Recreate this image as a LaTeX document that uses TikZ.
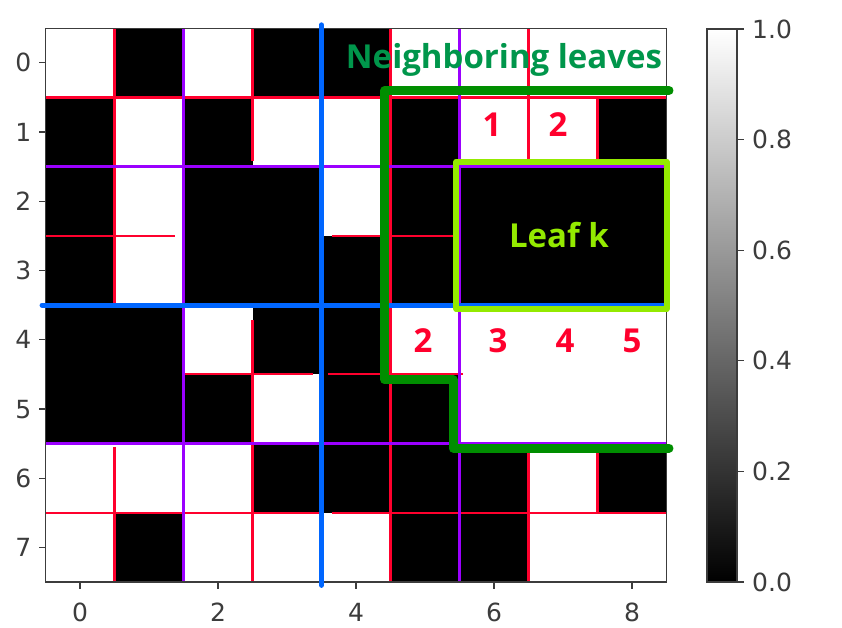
\documentclass[tikz,border=0pt]{standalone}
\usepackage{fontspec}
\newfontfamily\labfont{Open Sans}
\newfontfamily\tickfont{DejaVu Sans}
\definecolor{qred}{RGB}{255,0,45}
\definecolor{qpurple}{RGB}{155,0,255}
\definecolor{qblue}{RGB}{0,102,255}
\definecolor{qdgreen}{RGB}{0,142,0}
\definecolor{qlgreen}{RGB}{148,234,0}
\definecolor{qtext}{RGB}{0,150,75}
\definecolor{qaxis}{RGB}{60,60,60}
\tikzset{
  redl/.style={draw=qred,line width=2.2pt},
  purl/.style={draw=qpurple,line width=2.5pt},
  bluel/.style={draw=qblue,line width=5pt,line cap=round},
  leafbox/.style={draw=qlgreen,line width=6pt,line join=round},
  nbpath/.style={draw=qdgreen,line width=9pt,line cap=round,line join=round},
  axisframe/.style={draw=qaxis,line width=1.2pt},
  tickl/.style={draw=qaxis,line width=1.2pt},
  ticklab/.style={font=\tickfont\fontsize{25}{25}\selectfont,text=qaxis,inner sep=0pt},
  biglab/.style={font=\labfont\bfseries\fontsize{33}{33}\selectfont,inner sep=0pt,anchor=base},
  numlab/.style={biglab,text=qred},
}
\begin{document}
\begin{tikzpicture}[x=1pt,y=-1pt]
\useasboundingbox (0,0) rectangle (842,628);
\fill[white] (0,0) rectangle (842,628);
\begin{scope}[x=69pt,y=-69.2pt,shift={(80pt,-62.9pt)}]
  % black cells (col/row)
  \foreach \c/\r in {1/0,3/0,4/0,
                     0/1,2/1,5/1,8/1,
                     0/2,2/2,3/2,5/2,6/2,7/2,8/2,
                     0/3,2/3,3/3,4/3,5/3,6/3,7/3,8/3,
                     0/4,1/4,3/4,4/4,
                     0/5,1/5,2/5,4/5,5/5,
                     3/6,4/6,5/6,6/6,8/6,
                     1/7,5/7,6/7}
    \fill[black] (\c-0.5,\r-0.5) rectangle ++(1,1);
  % third-level splits
  \draw[redl] (-0.5,0.5) -- (8.5,0.5);
  \draw[redl] (0.5,-0.5) -- (0.5,3.5);
  \draw[redl] (0.5,5.55) -- (0.5,7.5);
  \draw[redl] (2.5,-0.5) -- (2.5,1.42);
  \draw[redl] (2.5,3.72) -- (2.5,7.5);
  \draw[redl] (-0.5,2.5) -- (1.38,2.5);
  \draw[redl] (3.65,2.5) -- (5.5,2.5);
  \draw[redl] (1.5,4.5) -- (3.38,4.5);
  \draw[redl] (3.6,4.5) -- (5.55,4.5);
  \draw[redl] (4.5,-0.5) -- (4.5,7.5);
  \draw[redl] (6.5,-0.5) -- (6.5,1.45);
  \draw[redl] (6.5,5.6) -- (6.5,7.5);
  \draw[redl] (7.5,0.5) -- (7.5,1.45);
  \draw[redl] (7.5,5.6) -- (7.5,6.5);
  \draw[redl] (-0.5,6.5) -- (3.48,6.5);
  \draw[redl] (3.65,6.5) -- (8.5,6.5);
  % second-level splits
  \draw[purl] (1.5,-0.5) -- (1.5,7.5);
  \draw[purl] (5.5,-0.5) -- (5.5,7.5);
  \draw[purl] (-0.5,1.5) -- (8.5,1.5);
  \draw[purl] (-0.5,5.5) -- (8.5,5.5);
  % axes frame and ticks
  \draw[axisframe] (-0.5,-0.5) rectangle (8.5,7.5);
  \foreach \t in {0,2,4,6,8} {
    \draw[tickl] (\t,7.5) -- ++(0,-7pt);
    \node[ticklab,anchor=base] (xt\t) at ([yshift=-40pt]\t,7.5) {\t};
  }
  \foreach \t in {0,...,7} {
    \draw[tickl] (-0.5,\t) -- ++(-7pt,0);
    \node[ticklab,anchor=base east] (yt\t) at ([xshift=-14pt,yshift=-9.1pt]-0.5,\t) {\t};
  }
  % first-level splits
  \draw[bluel] (3.5,-0.55) -- (3.5,7.55);
  \draw[bluel] (-0.55,3.5) -- (8.5,3.5);
  % leaf k and neighbours
  \draw[leafbox] (5.456,1.425) rectangle (8.5,3.556);
  \draw[nbpath] (8.536,0.399) -- (4.42,0.399) -- (4.42,4.582) -- (5.406,4.582)
                -- (5.406,5.565) -- (8.536,5.565);
\end{scope}
% labels (pixel coordinates)
\node[biglab,text=qtext] (nb) at (504,69) {Neighboring leaves};
\node[biglab,text=qlgreen] (leafk) at (559,247) {Leaf k};
\node[numlab] (n1) at (492,137) {1};
\node[numlab] (n2a) at (558,137) {2};
\node[numlab] (n2b) at (423,352) {2};
\node[numlab] (n3) at (498,352) {3};
\node[numlab] (n4) at (565,352) {4};
\node[numlab] (n5) at (632,352) {5};
% colorbar
\shade[top color=white,bottom color=black] (707,29) rectangle (737,582);
\draw[axisframe] (707,29) rectangle (737,582);
\foreach \v/\lab in {0/0.0,1/0.2,2/0.4,3/0.6,4/0.8,5/1.0} {
  \draw[tickl] (737,{582-110.6*\v}) -- ++(7,0);
  \node[ticklab,anchor=base west] (cb\v) at (752,{582-110.6*\v+9.1}) {\lab};
}
\end{tikzpicture}
\end{document}
